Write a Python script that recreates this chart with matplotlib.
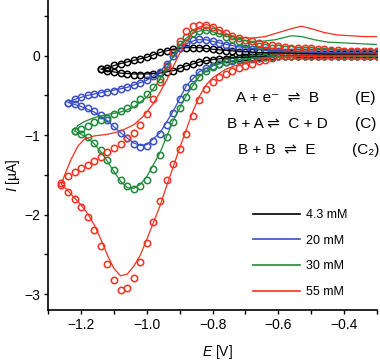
import matplotlib
matplotlib.use("Agg")
import matplotlib.pyplot as plt
from matplotlib.lines import Line2D
from matplotlib.ticker import MultipleLocator

plt.rcParams["font.family"] = ["Liberation Sans", "DejaVu Sans"]
plt.rcParams["mathtext.fontset"] = "custom"
plt.rcParams["mathtext.it"] = "Liberation Sans:italic"
plt.rcParams["mathtext.rm"] = "Liberation Sans"
plt.rcParams["axes.unicode_minus"] = True

# potentials of the sampled points (circles), from -0.30 V going negative
E_GRID = [-0.30, -0.32, -0.34, -0.36, -0.38, -0.40, -0.42, -0.44, -0.46, -0.48,
          -0.50, -0.52, -0.54, -0.56, -0.58, -0.60, -0.62, -0.64, -0.66, -0.68,
          -0.70, -0.72, -0.74, -0.76, -0.78, -0.80, -0.82, -0.84, -0.86, -0.88,
          -0.90, -0.92, -0.94, -0.96, -0.98, -1.00, -1.02, -1.04, -1.06, -1.08,
          -1.10, -1.12, -1.14, -1.16, -1.18, -1.20, -1.22, -1.24, -1.26]

# circles: forward (cathodic) and reverse scans, both listed along E_GRID
BLACK_FWD = [-0.01] * 18 + [-0.02, -0.02, -0.02, -0.03, -0.03, -0.04, -0.04, -0.05,
             -0.06, -0.08, -0.10, -0.13, -0.16, -0.19, -0.21, -0.22, -0.23, -0.24,
             -0.24, -0.24, -0.23, -0.22, -0.21, -0.19, -0.17]
BLACK_REV = [0.02] * 13 + [0.03, 0.03, 0.03, 0.03, 0.04, 0.04, 0.04, 0.05, 0.05,
             0.06, 0.06, 0.07, 0.08, 0.09, 0.10, 0.10, 0.10, 0.09, 0.08, 0.06, 0.04,
             0.01, -0.02, -0.04, -0.06, -0.08, -0.10, -0.12, -0.15, -0.17]

BLUE_FWD = [-0.01] * 16 + [-0.02, -0.02, -0.03, -0.04, -0.05, -0.06, -0.07, -0.08,
            -0.10, -0.13, -0.16, -0.21, -0.28, -0.40, -0.55, -0.72, -0.87, -0.98,
            -1.08, -1.14, -1.15, -1.11, -1.04, -0.97, -0.89, -0.81, -0.75, -0.70,
            -0.66, -0.63, -0.61, -0.59]
BLUE_REV = [0.03] * 7 + [0.04, 0.04, 0.04, 0.04, 0.04, 0.05, 0.05, 0.05, 0.06, 0.06,
            0.07, 0.07, 0.08, 0.09, 0.10, 0.12, 0.14, 0.16, 0.18, 0.20, 0.21, 0.20,
            0.16, 0.09, -0.01, -0.11, -0.20, -0.26, -0.31, -0.34, -0.37, -0.40,
            -0.42, -0.44, -0.46, -0.47, -0.48, -0.50, -0.52, -0.55, -0.59]

GREEN_FWD = [-0.01] * 16 + [-0.02, -0.02, -0.03, -0.03, -0.04, -0.05, -0.06, -0.08,
             -0.10, -0.14, -0.19, -0.27, -0.38, -0.52, -0.66, -0.83, -1.03, -1.25,
             -1.43, -1.56, -1.64, -1.68, -1.64, -1.56, -1.44, -1.31, -1.19, -1.10,
             -1.03, -0.98, -0.95]
GREEN_REV = [0.05] * 7 + [0.06, 0.06, 0.06, 0.07, 0.07, 0.07, 0.08, 0.08, 0.09, 0.10,
             0.11, 0.12, 0.14, 0.16, 0.18, 0.21, 0.24, 0.28, 0.31, 0.32, 0.31, 0.28,
             0.23, 0.15, 0.03, -0.14, -0.29, -0.40, -0.48, -0.55, -0.61, -0.66,
             -0.70, -0.74, -0.78, -0.81, -0.84, -0.88, -0.92, -0.95]

RED_FWD = [0.00] * 6 + [-0.01] * 10 + [-0.03, -0.05, -0.07, -0.10, -0.13, -0.16,
           -0.19, -0.23, -0.27, -0.33, -0.42, -0.56, -0.76, -0.98, -1.18, -1.36,
           -1.56, -1.83, -2.09, -2.36, -2.60, -2.80, -2.92, -2.95, -2.82, -2.62,
           -2.40, -2.20, -2.03, -1.90, -1.80, -1.71, -1.63]
RED_REV = [0.06] * 6 + [0.07, 0.07, 0.08, 0.08, 0.09, 0.09, 0.10, 0.10, 0.11, 0.12,
           0.13, 0.14, 0.16, 0.18, 0.20, 0.22, 0.25, 0.28, 0.32, 0.36, 0.38, 0.39,
           0.37, 0.31, 0.19, 0.04, -0.13, -0.33, -0.54, -0.73, -0.87, -0.97, -1.04,
           -1.11, -1.16, -1.21, -1.27, -1.32, -1.37, -1.42, -1.46, -1.51, -1.60]

# solid lines: full cycle, -0.30 V -> switching potential -> -0.30 V
BLACK_LINE_E = [-0.30, -0.50, -0.62, -0.70, -0.76, -0.80, -0.84, -0.88, -0.92, -0.96,
                -1.00, -1.04, -1.08, -1.12, -1.14, -1.12, -1.08, -1.04, -1.00, -0.96,
                -0.92, -0.88, -0.84, -0.80, -0.74, -0.66, -0.56, -0.44, -0.30]
BLACK_LINE_I = [-0.01, -0.01, -0.01, -0.02, -0.03, -0.05, -0.08, -0.13, -0.19, -0.22,
                -0.23, -0.23, -0.22, -0.19, -0.17, -0.15, -0.10, -0.06, -0.02, 0.04,
                0.08, 0.10, 0.10, 0.08, 0.06, 0.04, 0.03, 0.02, 0.02]

BLUE_LINE_E = [-0.30, -0.60, -0.70, -0.76, -0.80, -0.84, -0.88, -0.92, -0.96, -1.00,
               -1.02, -1.04, -1.08, -1.12, -1.16, -1.20, -1.24, -1.22, -1.18, -1.12,
               -1.06, -1.00, -0.96, -0.92, -0.90, -0.88, -0.85, -0.82, -0.78, -0.72,
               -0.64, -0.50, -0.30]
BLUE_LINE_I = [-0.01, -0.01, -0.04, -0.08, -0.12, -0.20, -0.38, -0.70, -0.97, -1.12,
               -1.13, -1.10, -0.97, -0.82, -0.71, -0.64, -0.59, -0.55, -0.50, -0.45,
               -0.40, -0.31, -0.20, -0.02, 0.08, 0.15, 0.20, 0.20, 0.16, 0.11,
               0.07, 0.04, 0.03]

GREEN_LINE_E = [-0.30, -0.60, -0.70, -0.76, -0.80, -0.84, -0.88, -0.92, -0.96, -1.00,
                -1.02, -1.04, -1.06, -1.08, -1.10, -1.12, -1.14, -1.16, -1.18, -1.20,
                -1.22, -1.21, -1.19, -1.16, -1.12, -1.08, -1.04, -1.00, -0.97, -0.94,
                -0.92, -0.90, -0.88, -0.86, -0.84, -0.82, -0.80, -0.77, -0.73, -0.69,
                -0.65, -0.61, -0.58, -0.56, -0.53, -0.49, -0.45, -0.40, -0.35, -0.30]
GREEN_LINE_I = [-0.01, -0.01, -0.04, -0.08, -0.13, -0.26, -0.50, -0.82, -1.22, -1.52,
                -1.62, -1.67, -1.66, -1.58, -1.46, -1.33, -1.21, -1.11, -1.04, -0.99,
                -0.95, -0.88, -0.83, -0.78, -0.74, -0.71, -0.65, -0.52, -0.36, -0.16,
                -0.01, 0.13, 0.22, 0.28, 0.31, 0.32, 0.30, 0.26, 0.21, 0.18,
                0.18, 0.20, 0.23, 0.25, 0.24, 0.20, 0.17, 0.16, 0.15, 0.14]

RED_LINE_E = [-0.30, -0.50, -0.60, -0.66, -0.72, -0.76, -0.80, -0.82, -0.84, -0.86,
              -0.88, -0.90, -0.92, -0.94, -0.96, -0.98, -1.00, -1.02, -1.04, -1.06,
              -1.08, -1.10, -1.12, -1.14, -1.16, -1.18, -1.20, -1.22, -1.24, -1.26,
              -1.25, -1.23, -1.21, -1.19, -1.16, -1.12, -1.08, -1.04, -1.01, -0.98,
              -0.96, -0.94, -0.92, -0.90, -0.88, -0.86, -0.84, -0.82, -0.80, -0.78,
              -0.75, -0.72, -0.68, -0.64, -0.60, -0.56, -0.53, -0.50, -0.46, -0.42,
              -0.38, -0.34, -0.30]
RED_LINE_I = [0.00, -0.01, -0.02, -0.05, -0.11, -0.17, -0.28, -0.37, -0.51, -0.70,
              -0.93, -1.16, -1.40, -1.64, -1.89, -2.10, -2.31, -2.51, -2.65, -2.75,
              -2.77, -2.68, -2.51, -2.31, -2.13, -1.99, -1.88, -1.79, -1.70, -1.62,
              -1.50, -1.30, -1.14, -1.05, -1.01, -0.99, -0.95, -0.87, -0.76, -0.60,
              -0.46, -0.31, -0.14, 0.03, 0.18, 0.29, 0.36, 0.39, 0.37, 0.32,
              0.26, 0.23, 0.22, 0.24, 0.29, 0.34, 0.37, 0.34, 0.29, 0.26,
              0.25, 0.24, 0.24]

LEGEND_LABELS = ["4.3 mM", "20 mM", "30 mM", "55 mM"]
COLORS = ["#000000", "#3a4fc4", "#1f8b3a", "#f5301e"]

REACTIONS = [("A + e\u207B  \u21CC  B", "(E)"),
             ("B + A \u21CC  C + D", "(C)"),
             ("B + B  \u21CC  E", "(C\u2082)")]


def circle_path(fwd, rev):
    n = len(fwd)
    e = E_GRID[:n] + E_GRID[:n][::-1]
    i = fwd + rev[::-1]
    return e, i


fig = plt.figure(figsize=(3.8, 3.6), dpi=100)
ax = fig.add_axes([0.127, 0.139, 0.865, 0.861])

series = [
    (BLACK_FWD, BLACK_REV, BLACK_LINE_E, BLACK_LINE_I),
    (BLUE_FWD, BLUE_REV, BLUE_LINE_E, BLUE_LINE_I),
    (GREEN_FWD, GREEN_REV, GREEN_LINE_E, GREEN_LINE_I),
    (RED_FWD, RED_REV, RED_LINE_E, RED_LINE_I),
]
for (fwd, rev, le, li), col in zip(series, COLORS):
    ce, ci = circle_path(fwd, rev)
    ax.plot(ce, ci, linestyle="none", marker="o", ms=4.6, mfc="none",
            mec=col, mew=1.1, zorder=2)
    ax.plot(le, li, color=col, lw=0.9, zorder=3)

ax.set_xlim(-1.30, -0.30)
ax.set_ylim(-3.2, 0.7)
ax.xaxis.set_major_locator(MultipleLocator(0.2))
ax.xaxis.set_minor_locator(MultipleLocator(0.1))
ax.yaxis.set_major_locator(MultipleLocator(1))
ax.yaxis.set_minor_locator(MultipleLocator(0.5))
ax.xaxis.set_major_formatter(plt.FuncFormatter(lambda v, p: f"{v:.1f}".replace("-", "\u2212")))
ax.yaxis.set_major_formatter(plt.FuncFormatter(lambda v, p: f"{v:.0f}".replace("-", "\u2212")))
ax.tick_params(which="both", direction="out", length=3, width=1, labelsize=10, pad=3)
for side in ["top", "right"]:
    ax.spines[side].set_visible(False)
for side in ["left", "bottom"]:
    ax.spines[side].set_linewidth(1.2)

ax.set_xlabel("$E$ [V]", fontsize=10)
ax.set_ylabel("$I$ [\u00b5A]", fontsize=10)
ax.xaxis.set_label_coords(0.516, -0.105)
ax.yaxis.set_label_coords(-0.08, 0.435)

handles = [Line2D([], [], color=c, lw=1.2) for c in COLORS]
ax.legend(handles, LEGEND_LABELS, loc="lower left", bbox_to_anchor=(0.605, 0.018),
          frameon=False, fontsize=9, handlelength=3.7, handletextpad=0.5,
          labelspacing=1.1, borderpad=0)

for k, (eq, tag) in enumerate(REACTIONS):
    y = 0.728 - k * 0.072
    fig.text(0.729, y, eq, ha="center", va="center", fontsize=11)
    fig.text(0.962, y, tag, ha="center", va="center", fontsize=11)

fig.savefig("out.png", dpi=100)
